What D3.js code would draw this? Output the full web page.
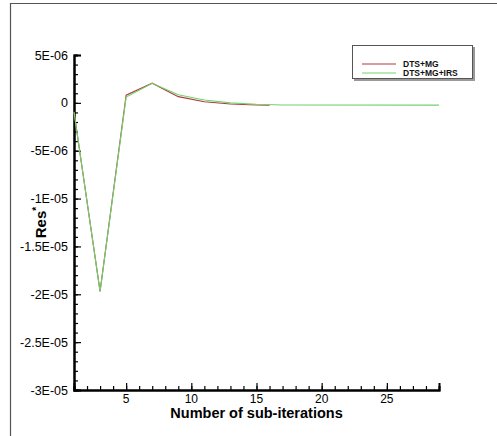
<!DOCTYPE html>
<html>
<head>
<meta charset="utf-8">
<script src="https://cdn.jsdelivr.net/npm/d3@7"></script>
<style>
  html, body { margin: 0; padding: 0; background: #fff; }
  svg { display: block; }
  text { font-family: Arial, "Liberation Sans", sans-serif; }
</style>
</head>
<body>
<svg id="chart" width="497" height="436"></svg>
<script>
// Residual history over sub-iterations for two solver settings
const mgIter = [1, 3, 5, 7, 9, 11, 13, 15, 16];
const mgRes = [-0.95e-6, -19.7e-6, 0.8e-6, 2.05e-6, 0.65e-6, 0.12e-6, -0.12e-6, -0.22e-6, -0.25e-6];

const irsIter = [1, 3, 5, 7, 9, 11, 13, 15, 17, 29];
const irsRes = [-0.95e-6, -19.7e-6, 0.6e-6, 2.05e-6, 0.85e-6, 0.3e-6, 0.0e-6, -0.15e-6, -0.22e-6, -0.24e-6];

const seriesNames = ["DTS+MG", "DTS+MG+IRS"];
const seriesColors = ["#b03a3a", "#6fd36f"];

const yTickValues = [5e-6, 0, -5e-6, -1e-5, -1.5e-5, -2e-5, -2.5e-5, -3e-5];
const yTickLabels = ["5E-06", "0", "-5E-06", "-1E-05", "-1.5E-05", "-2E-05", "-2.5E-05", "-3E-05"];
const xTickValues = [5, 10, 15, 20, 25];

const svg = d3.select("#chart");

// outer frame lines (top and left)
svg.append("path")
  .attr("d", "M10.5,436 L10.5,3.5 L497,3.5")
  .attr("fill", "none").attr("stroke", "#555").attr("stroke-width", 1.2);

const plotLeft = 74, plotRight = 439, plotTop = 55, plotBottom = 390;
const x = d3.scaleLinear().domain([1, 29]).range([plotLeft, plotRight]);
const y = d3.scaleLinear().domain([-3e-5, 5e-6]).range([plotBottom, plotTop]);

// y axis: major and minor ticks pointing into the plot
const yAxis = d3.axisRight(y).tickValues(yTickValues).tickSize(7).tickFormat("");
const yMinor = d3.axisRight(y).tickValues(d3.range(-30, 6, 1).map(v => v * 1e-6)).tickSize(4).tickFormat("");
svg.append("g").attr("transform", `translate(${plotLeft},0)`).call(yMinor);
svg.append("g").attr("transform", `translate(${plotLeft},0)`).call(yAxis);

svg.append("g").selectAll("text").data(yTickValues).join("text")
  .attr("x", plotLeft - 6).attr("y", d => y(d) + 4.5)
  .attr("text-anchor", "end").attr("font-size", 12.5).attr("fill", "#000")
  .text((d, i) => yTickLabels[i]);

// x axis: ticks pointing up into the plot
const xMinor = d3.axisTop(x).tickValues(d3.range(1, 30, 1)).tickSize(4).tickFormat("");
const xMajor = d3.axisTop(x).tickValues(xTickValues).tickSize(7).tickFormat("");
svg.append("g").attr("transform", `translate(0,${plotBottom})`).call(xMinor);
svg.append("g").attr("transform", `translate(0,${plotBottom})`).call(xMajor);
svg.selectAll(".domain").attr("stroke", "#000").attr("stroke-width", 2);
svg.selectAll(".tick line").attr("stroke", "#000").attr("stroke-width", 1.2);

svg.append("g").selectAll("text").data(xTickValues).join("text")
  .attr("x", d => x(d)).attr("y", plotBottom + 13)
  .attr("text-anchor", "middle").attr("font-size", 12).attr("fill", "#000")
  .text(d => d);

// axis titles
svg.append("text")
  .attr("x", (plotLeft + plotRight) / 2).attr("y", plotBottom + 27.5)
  .attr("text-anchor", "middle").attr("font-size", 14.5).attr("font-weight", "bold")
  .text("Number of sub-iterations");

const yt = svg.append("text")
  .attr("transform", `translate(46,${(plotTop + plotBottom) / 2}) rotate(-90)`)
  .attr("text-anchor", "middle").attr("font-size", 15).attr("font-weight", "bold");
yt.append("tspan").text("Res");
yt.append("tspan").attr("dy", -6).attr("font-size", 10).text("*");

// data lines
const line = d3.line().x(d => x(d[0])).y(d => y(d[1]));
const series = [
  d3.zip(mgIter, mgRes),
  d3.zip(irsIter, irsRes)
];
svg.append("g").selectAll("path").data(series).join("path")
  .attr("d", line).attr("fill", "none")
  .attr("stroke", (d, i) => seriesColors[i]).attr("stroke-width", 1.1);

// legend with drop shadow
const lg = svg.append("g");
lg.append("rect").attr("x", 354).attr("y", 47).attr("width", 121).attr("height", 34).attr("fill", "#999");
lg.append("rect").attr("x", 352.5).attr("y", 45.5).attr("width", 120).attr("height", 33)
  .attr("fill", "#fff").attr("stroke", "#555").attr("stroke-width", 1);
seriesNames.forEach((name, i) => {
  const ly = 64 + i * 9;
  lg.append("line").attr("x1", 362).attr("x2", 396).attr("y1", ly).attr("y2", ly)
    .attr("stroke", seriesColors[i]).attr("stroke-width", 1.1);
  lg.append("text").attr("x", 403).attr("y", ly + 3).attr("font-size", 8.5)
    .attr("font-weight", "bold").attr("fill", "#111").text(name);
});
</script>
</body>
</html>
